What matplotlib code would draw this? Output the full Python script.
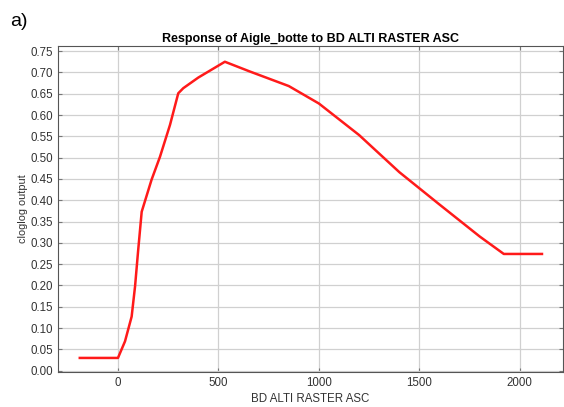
import numpy as np
import matplotlib.pyplot as plt

plt.rcParams['font.family'] = ['Liberation Sans', 'DejaVu Sans']

# response curve
elev = [-190, 0, 35, 68, 85, 100, 118, 167, 209, 259, 300, 325, 400,
        532, 657, 850, 1000, 1200, 1400, 1600, 1800, 1920, 2110]
resp = [0.030, 0.030, 0.069, 0.127, 0.198, 0.28, 0.373, 0.448, 0.502, 0.577,
        0.651, 0.663, 0.688, 0.725, 0.702, 0.668, 0.627, 0.553, 0.466, 0.39,
        0.315, 0.274, 0.274]

xticks = [0, 500, 1000, 1500, 2000]
yticks = np.round(np.arange(0, 0.751, 0.05), 2)

fig = plt.figure(figsize=(5.64, 4.07), dpi=100)
ax = fig.add_axes([0.103, 0.086, 0.895, 0.801])

ax.plot(elev, resp, color='#ff1a1a', lw=1.8)

ax.set_xlim(-298, 2214)
ax.set_ylim(-0.003, 0.762)
ax.set_xticks(xticks)
ax.set_yticks(yticks)
ax.set_yticklabels([f'{v:.2f}' for v in yticks])
ax.grid(True, color='#d0d0d0', lw=0.9)
ax.set_axisbelow(True)
ax.tick_params(direction='in', top=True, right=True, labelsize=8.3,
               labelcolor='#333333', color='#777777', length=3)
for s in ax.spines.values():
    s.set_color('#555555')

ax.set_title('Response of Aigle_botte to BD ALTI RASTER ASC', fontsize=9,
             fontweight='bold', pad=3)
ax.set_xlabel('BD ALTI RASTER ASC', fontsize=8.3, color='#333333', labelpad=3)
ax.set_ylabel('cloglog output', fontsize=7.8, color='#333333', labelpad=2)

fig.text(0.018, 0.935, 'a)', fontsize=14)

fig.savefig('out.png', dpi=100)
